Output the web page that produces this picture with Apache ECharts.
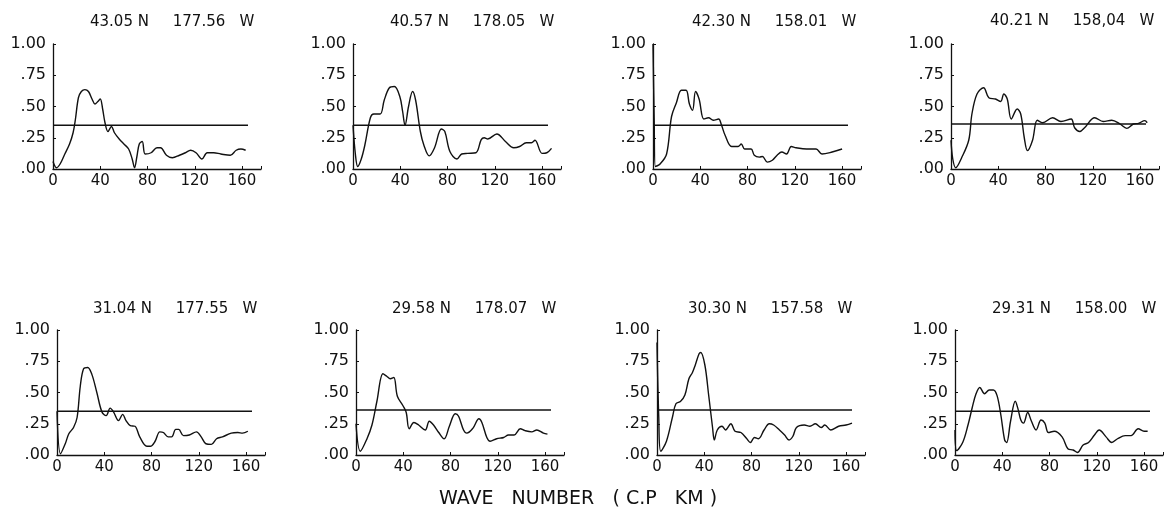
<!DOCTYPE html>
<html>
<head>
<meta charset="utf-8">
<script src="https://cdn.jsdelivr.net/npm/echarts@6/dist/echarts.min.js"></script>
<style>
  html, body { margin: 0; padding: 0; background: #fff; }
  #chart { width: 1171px; height: 513px; }
</style>
</head>
<body>
<div id="chart"></div>
<script>
// station labels, one per panel (row 1 then row 2)
var titles = [
    "43.05 N     177.56   W", "40.57 N     178.05   W", "42.30 N     158.01   W", "40.21 N     158,04   W",
    "31.04 N     177.55   W", "29.58 N     178.07   W", "30.30 N     157.58   W", "29.31 N     158.00   W"
];
var xTicks = [0, 40, 80, 120, 160];
var yTickLabels = [".00", ".25", ".50", ".75", "1.00"];
var thresholds = [0.35, 0.35, 0.35, 0.36, 0.35, 0.36, 0.36, 0.35];
var thresholdEnd = 165;

// coherence vs wave number, [wave, value]
var curve1 = [[0,0.06],[3,0.01],[6,0.04],[10,0.12],[14,0.2],[17,0.29],[19,0.4],[21.5,0.57],[24,0.62],[27,0.635],[30,0.62],[33,0.56],[35.5,0.52],[38,0.54],[40,0.56],[42,0.48],[44,0.37],[46.5,0.3],[49.5,0.34],[52,0.29],[56,0.24],[60,0.2],[64,0.16],[67,0.08],[69,0.01],[71,0.1],[73,0.2],[75.5,0.22],[78,0.12],[83,0.13],[88,0.17],[91,0.17],[96,0.11],[101,0.09],[107,0.11],[112,0.13],[116.5,0.15],[121,0.13],[126,0.08],[130.5,0.13],[136,0.13],[142,0.12],[150,0.11],[155,0.15],[159,0.16],[163,0.15]];
var curve2 = [[0,0.35],[2,0.12],[4,0.02],[7,0.08],[10,0.19],[14.7,0.41],[17.6,0.44],[23,0.44],[26.4,0.55],[30.8,0.65],[35,0.66],[39.6,0.58],[42,0.46],[44,0.35],[47,0.5],[50.4,0.62],[53,0.55],[57,0.3],[60,0.19],[64.5,0.105],[69,0.17],[74.8,0.32],[77.7,0.3],[82,0.14],[88,0.08],[92,0.12],[97,0.125],[104,0.13],[108.5,0.235],[111,0.25],[114,0.24],[121.7,0.28],[129,0.22],[136,0.17],[141,0.18],[146.6,0.21],[151,0.21],[154,0.23],[160,0.125],[164,0.13],[168,0.165]];
var curve3 = [[0,1.0],[1,0.4],[2,0.02],[6,0.04],[11.5,0.12],[15.7,0.42],[19.8,0.53],[24,0.63],[28,0.63],[30.8,0.52],[33.5,0.47],[36,0.62],[39,0.56],[43,0.4],[47,0.41],[51,0.39],[55.5,0.4],[58,0.35],[61,0.27],[66.5,0.18],[72,0.18],[74.7,0.2],[77.5,0.16],[83,0.16],[85.7,0.11],[90,0.095],[92.6,0.1],[96.7,0.055],[101,0.07],[105,0.11],[109,0.136],[113,0.12],[117,0.18],[121,0.17],[130,0.16],[138,0.16],[143,0.12],[151.6,0.136],[160,0.16]];
var curve4 = [[0,0.23],[1.5,0.08],[4,0.01],[9,0.09],[15,0.23],[17.7,0.44],[22,0.6],[27.6,0.65],[32,0.57],[37.6,0.56],[42,0.54],[44.7,0.6],[47.6,0.56],[51,0.4],[56,0.48],[59,0.44],[62,0.25],[64.7,0.147],[69,0.23],[73,0.39],[77.5,0.37],[86,0.41],[93,0.38],[101.7,0.4],[104.6,0.33],[109,0.3],[113,0.33],[121.6,0.41],[128.8,0.38],[136,0.39],[143,0.36],[148.7,0.325],[154.4,0.36],[158.7,0.365],[164,0.387],[166,0.37]];
var curve5 = [[0,0.35],[3,0.01],[7,0.09],[10,0.17],[14,0.22],[17,0.3],[19.7,0.55],[22.5,0.69],[26,0.7],[29.5,0.645],[33.7,0.5],[38,0.345],[41.6,0.315],[45,0.375],[47.8,0.345],[52,0.275],[55.6,0.325],[58.4,0.275],[62,0.235],[66,0.23],[70,0.145],[76,0.07],[79,0.07],[83,0.11],[87,0.185],[90,0.18],[94,0.145],[97,0.145],[100.5,0.205],[103,0.205],[107,0.155],[112,0.16],[118,0.185],[122,0.145],[126,0.09],[130.6,0.085],[135,0.13],[140,0.145],[147.5,0.175],[153,0.18],[157,0.175],[161.5,0.19]];
var curve6 = [[0,0.25],[3.7,0.03],[9.3,0.13],[13.5,0.24],[17.7,0.43],[22.8,0.65],[26,0.63],[29,0.61],[32,0.62],[35,0.47],[40,0.39],[42.5,0.34],[45,0.21],[49,0.26],[53,0.24],[58.6,0.2],[62,0.27],[65.6,0.24],[70,0.18],[74.6,0.13],[79,0.23],[84,0.33],[86.8,0.31],[91,0.2],[93.8,0.175],[99,0.215],[104,0.29],[106.5,0.26],[110.7,0.14],[113.5,0.11],[119,0.13],[125,0.14],[129,0.16],[133.8,0.16],[139,0.21],[143,0.195],[148.7,0.185],[153,0.2],[158.6,0.175],[162,0.167]];
var curve7 = [[0,0.9],[1.5,0.3],[3.2,0.03],[8,0.11],[13,0.3],[16,0.41],[20,0.43],[23.6,0.48],[27,0.61],[30,0.66],[32.4,0.72],[35.6,0.81],[37,0.82],[40.5,0.72],[43.7,0.48],[47,0.22],[48.5,0.12],[51,0.2],[55,0.23],[58,0.2],[62.5,0.25],[66,0.19],[71,0.18],[76,0.13],[79,0.1],[82.5,0.14],[85.8,0.13],[90.6,0.2],[95,0.25],[98.7,0.24],[103.6,0.2],[108,0.16],[111.7,0.12],[115,0.15],[118,0.22],[124.6,0.24],[129.4,0.23],[134,0.25],[139,0.22],[142,0.24],[147,0.2],[153.7,0.23],[160,0.24],[165,0.255]];
var curve8 = [[0,0.2],[1.5,0.035],[6.5,0.1],[11,0.24],[14.6,0.38],[17.8,0.49],[21,0.54],[25,0.49],[29,0.52],[32.4,0.52],[35.6,0.475],[38.8,0.32],[42,0.12],[43.7,0.1],[47,0.27],[51,0.43],[53.4,0.365],[55.7,0.28],[58,0.255],[61.5,0.34],[64.7,0.27],[68.6,0.2],[72.8,0.28],[76,0.255],[79,0.18],[84,0.19],[90.6,0.145],[95.5,0.05],[100,0.04],[103.6,0.02],[108.4,0.08],[113,0.1],[118,0.16],[122,0.2],[127.8,0.145],[132.7,0.1],[137.5,0.13],[144,0.155],[149,0.155],[155,0.21],[160,0.19],[163,0.19]];
var curves = [curve1, curve2, curve3, curve4, curve5, curve6, curve7, curve8];

// panel placement in px
var gridLeft = [53, 353, 653, 951, 57, 356, 657, 955];
var gridTop = [44, 44, 44, 44, 330, 330, 330, 330];
var titleLeft = [85, 385, 687, 985, 88, 387, 683, 987];
var titleTop = [10, 10, 10, 9, 297, 297, 297, 297];

var font = "DejaVu Sans";
var chart = echarts.init(document.getElementById("chart"));

var option = {
    backgroundColor: "#fff",
    animation: false,
    title: [],
    grid: [],
    xAxis: [],
    yAxis: [],
    series: []
};

for (let i = 0; i < 8; i++) {
    option.title.push({
        text: titles[i],
        left: titleLeft[i],
        top: titleTop[i],
        textStyle: {fontFamily: font, fontSize: 15, fontWeight: "normal", color: "#111"}
    });
    option.grid.push({left: gridLeft[i], top: gridTop[i], width: 208, height: 125});
    option.xAxis.push({
        type: "value",
        gridIndex: i,
        min: 0,
        max: 176,
        interval: 40,
        splitLine: {show: false},
        axisLine: {lineStyle: {color: "#111", width: 1.3}},
        axisTick: {show: true, inside: true, length: 3, lineStyle: {color: "#111"}},
        axisLabel: {
            fontFamily: font, fontSize: 15, color: "#111", margin: 5,
            formatter: function (v) { return xTicks.indexOf(v) >= 0 ? String(v) : ""; }
        }
    });
    option.yAxis.push({
        type: "value",
        gridIndex: i,
        min: 0,
        max: 1,
        interval: 0.25,
        splitLine: {show: false},
        axisLine: {show: true, lineStyle: {color: "#111", width: 1.3}},
        axisTick: {show: true, inside: true, length: 3, lineStyle: {color: "#111"}},
        axisLabel: {
            fontFamily: font, fontSize: 16, color: "#111", margin: 7,
            formatter: function (v) { return yTickLabels[Math.round(v / 0.25)]; }
        }
    });
    option.series.push({
        type: "line",
        xAxisIndex: i,
        yAxisIndex: i,
        data: curves[i],
        smooth: 0.35,
        symbol: "none",
        lineStyle: {color: "#111", width: 1.4}
    });
    option.series.push({
        type: "line",
        xAxisIndex: i,
        yAxisIndex: i,
        data: [[0, thresholds[i]], [thresholdEnd, thresholds[i]]],
        symbol: "none",
        lineStyle: {color: "#111", width: 1.4}
    });
}

option.title.push({
    text: "WAVE   NUMBER   ( C.P   KM )",
    left: 573,
    top: 485,
    textAlign: "center",
    textStyle: {fontFamily: font, fontSize: 19, fontWeight: "normal", color: "#111"}
});

chart.setOption(option);
</script>
</body>
</html>
